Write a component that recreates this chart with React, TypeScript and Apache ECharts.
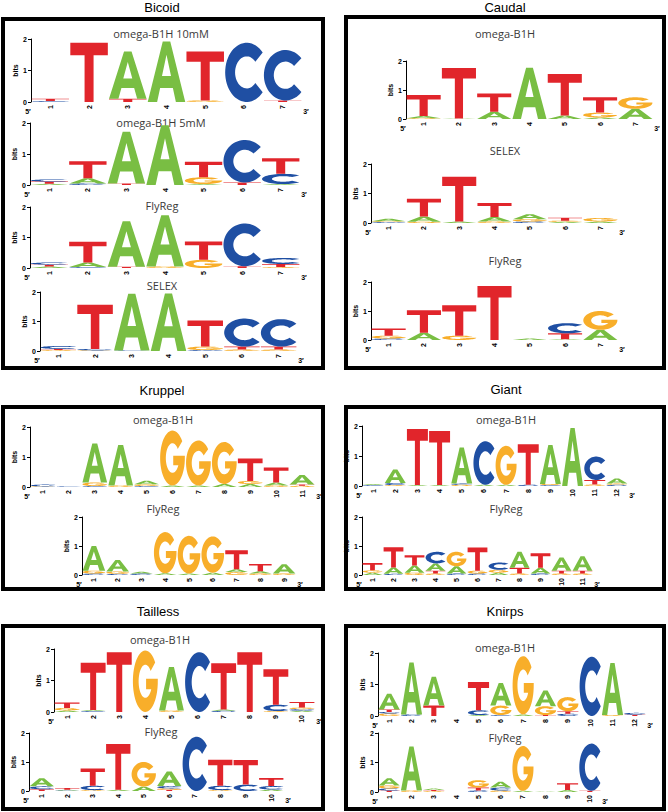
import React, { useEffect, useRef } from "react";
import * as echarts from "echarts";

type Stack = [string, number][];

// ---------- DATA (bits per letter, bottom → top) ----------
const bicoidB1H10: Stack[] = [
  [["C", 0.03], ["T", 0.07]],
  [["T", 1.88]],
  [["T", 0.1], ["A", 1.5]],
  [["A", 1.92]],
  [["G", 0.05], ["T", 1.55]],
  [["C", 1.88]],
  [["T", 0.05], ["C", 1.6]],
];
const bicoidB1H5: Stack[] = [
  [["A", 0.04], ["T", 0.07], ["C", 0.07]],
  [["C", 0.05], ["A", 0.17], ["T", 0.55]],
  [["T", 0.05], ["A", 1.67]],
  [["A", 1.93]],
  [["A", 0.03], ["G", 0.22], ["T", 0.5]],
  [["T", 0.08], ["C", 1.37]],
  [["A", 0.03], ["C", 0.33], ["T", 0.5]],
];
const bicoidFlyReg: Stack[] = [
  [["A", 0.05], ["T", 0.06], ["C", 0.07]],
  [["C", 0.03], ["A", 0.15], ["T", 0.68]],
  [["T", 0.04], ["A", 1.49]],
  [["G", 0.05], ["A", 1.68]],
  [["G", 0.27], ["T", 0.6]],
  [["T", 0.06], ["C", 1.4]],
  [["G", 0.03], ["T", 0.1], ["C", 0.2]],
];
const bicoidSELEX: Stack[] = [
  [["G", 0.03], ["T", 0.04], ["C", 0.1]],
  [["G", 0.02], ["C", 0.05], ["T", 1.5]],
  [["C", 0.02], ["A", 1.92]],
  [["A", 1.95]],
  [["C", 0.03], ["G", 0.12], ["T", 0.88]],
  [["G", 0.05], ["T", 0.1], ["C", 0.95]],
  [["G", 0.05], ["T", 0.1], ["C", 0.93]],
];
const caudalB1H: Stack[] = [
  [["G", 0.03], ["A", 0.07], ["T", 0.73]],
  [["A", 0.02], ["T", 1.74]],
  [["A", 0.25], ["T", 0.63]],
  [["A", 1.77]],
  [["A", 0.12], ["T", 1.43]],
  [["A", 0.05], ["G", 0.17], ["T", 0.53]],
  [["A", 0.35], ["G", 0.4]],
];
const caudalSELEX: Stack[] = [
  [["C", 0.03], ["G", 0.03], ["A", 0.08]],
  [["G", 0.04], ["A", 0.18], ["T", 0.6]],
  [["A", 0.05], ["T", 1.52]],
  [["G", 0.05], ["A", 0.15], ["T", 0.48]],
  [["C", 0.05], ["G", 0.08], ["A", 0.17]],
  [["A", 0.04], ["G", 0.04], ["T", 0.1]],
  [["A", 0.05], ["G", 0.12]],
];
const caudalFlyReg: Stack[] = [
  [["C", 0.05], ["G", 0.1], ["T", 0.25]],
  [["A", 0.25], ["T", 0.78]],
  [["G", 0.15], ["T", 1.05]],
  [["T", 1.86]],
  [["A", 0.05]],
  [["A", 0.03], ["T", 0.2], ["C", 0.35]],
  [["A", 0.35], ["G", 0.65]],
];
const kruppelB1H: Stack[] = [
  [["G", 0.02], ["C", 0.06]],
  [["C", 0.02]],
  [["C", 0.03], ["G", 0.12], ["A", 1.3]],
  [["G", 0.05], ["A", 1.35]],
  [["C", 0.03], ["G", 0.06], ["A", 0.12]],
  [["A", 0.05], ["G", 1.83]],
  [["A", 0.05], ["G", 1.5]],
  [["A", 0.1], ["G", 1.4]],
  [["A", 0.1], ["G", 0.1], ["T", 0.75]],
  [["G", 0.05], ["A", 0.1], ["T", 0.5]],
  [["G", 0.04], ["T", 0.04], ["A", 0.32]],
];
const kruppelFlyReg: Stack[] = [
  [["C", 0.05], ["G", 0.1], ["A", 0.85]],
  [["C", 0.04], ["G", 0.08], ["A", 0.4]],
  [["C", 0.05], ["A", 0.06]],
  [["A", 0.06], ["G", 1.42]],
  [["A", 0.05], ["G", 1.3]],
  [["A", 0.08], ["G", 1.25]],
  [["G", 0.1], ["A", 0.1], ["T", 0.65]],
  [["G", 0.05], ["A", 0.08], ["T", 0.25]],
  [["G", 0.05], ["A", 0.32]],
];
const giantB1H: Stack[] = [
  [["C", 0.03], ["A", 0.04]],
  [["G", 0.03], ["C", 0.07], ["A", 0.45]],
  [["A", 0.03], ["T", 1.87]],
  [["A", 0.03], ["T", 1.8]],
  [["G", 0.04], ["C", 0.04], ["A", 1.2]],
  [["A", 0.04], ["C", 1.45]],
  [["A", 0.04], ["G", 1.3]],
  [["C", 0.04], ["T", 1.35]],
  [["C", 0.03], ["G", 0.04], ["A", 1.3]],
  [["A", 1.93]],
  [["G", 0.05], ["T", 0.15], ["C", 0.78]],
  [["C", 0.04], ["G", 0.04], ["A", 0.17]],
];
const giantFlyReg: Stack[] = [
  [["A", 0.08], ["G", 0.08], ["T", 0.25]],
  [["C", 0.04], ["A", 0.22], ["T", 0.7]],
  [["G", 0.08], ["A", 0.25], ["T", 0.35]],
  [["G", 0.05], ["T", 0.1], ["A", 0.25], ["C", 0.4]],
  [["C", 0.05], ["A", 0.25], ["G", 0.5]],
  [["C", 0.05], ["G", 0.1], ["T", 0.8]],
  [["A", 0.08], ["G", 0.1], ["C", 0.25]],
  [["G", 0.05], ["T", 0.2], ["A", 0.55]],
  [["C", 0.05], ["A", 0.2], ["T", 0.5]],
  [["G", 0.05], ["T", 0.1], ["A", 0.45]],
  [["G", 0.05], ["T", 0.1], ["A", 0.5]],
];
const taillessB1H: Stack[] = [
  [["A", 0.05], ["G", 0.08], ["T", 0.17]],
  [["C", 0.03], ["A", 0.03], ["T", 1.5]],
  [["T", 1.9]],
  [["G", 1.95]],
  [["G", 0.05], ["A", 1.38]],
  [["C", 1.9]],
  [["C", 0.04], ["A", 0.04], ["T", 1.47]],
  [["T", 1.9]],
  [["G", 0.03], ["C", 0.2], ["T", 1.13]],
  [["A", 0.04], ["C", 0.05], ["G", 0.05], ["T", 0.18]],
];
const taillessFlyReg: Stack[] = [
  [["T", 0.06], ["C", 0.1], ["A", 0.28]],
  [["C", 0.02], ["A", 0.02], ["T", 0.06]],
  [["G", 0.03], ["C", 0.15], ["T", 0.6]],
  [["A", 0.04], ["T", 1.58]],
  [["A", 0.15], ["G", 0.85]],
  [["T", 0.04], ["G", 0.05], ["C", 0.08], ["A", 0.5]],
  [["C", 1.87]],
  [["G", 0.03], ["C", 0.15], ["T", 0.9]],
  [["C", 0.22], ["T", 0.85]],
  [["A", 0.05], ["C", 0.12], ["T", 0.28]],
];
const knirpsB1H: Stack[] = [
  [["G", 0.08], ["C", 0.05], ["T", 0.08], ["A", 0.5]],
  [["C", 0.05], ["A", 1.65]],
  [["T", 0.33], ["A", 0.92]],
  [],
  [["A", 0.03], ["C", 0.15], ["T", 0.9]],
  [["C", 0.03], ["G", 0.3], ["A", 0.72]],
  [["A", 0.05], ["G", 1.85]],
  [["T", 0.03], ["G", 0.28], ["A", 0.5]],
  [["C", 0.07], ["T", 0.08], ["G", 0.45]],
  [["C", 1.88]],
  [["G", 0.03], ["A", 1.65]],
  [["T", 0.04], ["C", 0.06]],
];
const knirpsFlyReg: Stack[] = [
  [["T", 0.05], ["C", 0.07], ["G", 0.1], ["A", 0.25]],
  [["G", 0.05], ["A", 1.49]],
  [["G", 0.03], ["T", 0.04], ["A", 0.05]],
  [],
  [["C", 0.05], ["T", 0.1], ["G", 0.25]],
  [["G", 0.05], ["C", 0.1], ["A", 0.2]],
  [["A", 0.04], ["G", 1.52]],
  [["A", 0.02]],
  [["A", 0.07], ["T", 0.23]],
  [["T", 0.04], ["C", 1.6]],
];

const yTicks = [0, 1, 2];
const panelTitles = ["Bicoid", "Caudal", "Kruppel", "Giant", "Tailless", "Knirps"];

// ---------- LAYOUT ----------
const panels = [
  { title: panelTitles[0], tx: 162, ty: 7, x0: 1, y0: 17, x1: 325, y1: 370 },
  { title: panelTitles[1], tx: 505, ty: 7, x0: 344, y0: 15, x1: 666, y1: 370 },
  { title: panelTitles[2], tx: 162, ty: 390, x0: 1, y0: 405, x1: 325, y1: 591 },
  { title: panelTitles[3], tx: 506, ty: 389, x0: 344, y0: 405, x1: 666, y1: 591 },
  { title: panelTitles[4], tx: 158, ty: 611, x0: 1, y0: 624, x1: 325, y1: 811 },
  { title: panelTitles[5], tx: 505, ty: 611, x0: 344, y0: 624, x1: 666, y1: 811 },
];

const logos = [
  { stacks: bicoidB1H10, title: "omega-B1H 10mM", tx: 161, ty: 33, left: 31, top: 39, width: 271, height: 63 },
  { stacks: bicoidB1H5, title: "omega-B1H 5mM", tx: 161, ty: 122, left: 30, top: 123, width: 270, height: 62 },
  { stacks: bicoidFlyReg, title: "FlyReg", tx: 162, ty: 205, left: 30, top: 207, width: 270, height: 61 },
  { stacks: bicoidSELEX, title: "SELEX", tx: 162, ty: 285, left: 40, top: 292, width: 257, height: 59 },
  { stacks: caudalB1H, title: "omega-B1H", tx: 505, ty: 33, left: 406, top: 61, width: 247, height: 58 },
  { stacks: caudalSELEX, title: "SELEX", tx: 505, ty: 150, left: 371, top: 164, width: 247, height: 59 },
  { stacks: caudalFlyReg, title: "FlyReg", tx: 505, ty: 260, left: 371, top: 282, width: 247, height: 58 },
  { stacks: kruppelB1H, title: "omega-B1H", tx: 163, ty: 419, left: 30, top: 427, width: 285, height: 60 },
  { stacks: kruppelFlyReg, title: "FlyReg", tx: 163, ty: 508, left: 82, top: 517, width: 214, height: 58 },
  { stacks: giantB1H, title: "omega-B1H", tx: 506, ty: 419, left: 362, top: 426, width: 266, height: 60 },
  { stacks: giantFlyReg, title: "FlyReg", tx: 506, ty: 508, left: 362, top: 517, width: 231, height: 58 },
  { stacks: taillessB1H, title: "omega-B1H", tx: 160, ty: 639, left: 54, top: 649, width: 261, height: 63 },
  { stacks: taillessFlyReg, title: "FlyReg", tx: 161, ty: 731, left: 29, top: 733, width: 255, height: 58 },
  { stacks: knirpsB1H, title: "omega-B1H", tx: 505, ty: 647, left: 378, top: 653, width: 268, height: 63 },
  { stacks: knirpsFlyReg, title: "FlyReg", tx: 505, ty: 737, left: 378, top: 733, width: 223, height: 59 },
];

// ---------- LETTER GLYPHS ----------
const LETTERS = ["A", "C", "G", "T"];
const LETTER_COLORS = ["#79be43", "#1f4fa3", "#f8ae2a", "#e1252b"];

function arcPts(r: number, a0: number, a1: number, n: number): string[] {
  const out: string[] = [];
  for (let i = 0; i <= n; i++) {
    const a = ((a0 + ((a1 - a0) * i) / n) * Math.PI) / 180;
    out.push(`${(50 + r * Math.cos(a)).toFixed(2)} ${(50 - r * Math.sin(a)).toFixed(2)}`);
  }
  return out;
}
const PATH_A = "M40 0 L60 0 L100 100 L75 100 L67 77 L33 77 L25 100 L0 100 Z M38 57 L62 57 L50 22 Z";
const PATH_C = (() => {
  const o = arcPts(50, 42, 318, 48);
  const i = arcPts(27, 318, 42, 36);
  return "M" + o.join(" L") + " L" + i.join(" L") + " Z";
})();
const PATH_G = (() => {
  const o = arcPts(50, 38, 355, 48);
  const inStart = 360 - (Math.asin(13 / 27) * 180) / Math.PI;
  const i = arcPts(27, inStart, 38, 36);
  return "M" + o.join(" L") + " L100 46 L53 46 L53 63 L" + i.join(" L") + " Z";
})();
const PATH_T = "M0 0 L100 0 L100 21 L62 21 L62 100 L38 100 L38 21 L0 21 Z";
const LETTER_PATHS = [PATH_A, PATH_C, PATH_G, PATH_T];

const AXIS_FONT = "'Liberation Sans', Arial, sans-serif";

function buildOption() {
  const grid: any[] = [];
  const xAxis: any[] = [];
  const yAxis: any[] = [];
  const series: any[] = [];
  const graphic: any[] = [];

  panels.forEach((p) => {
    graphic.push({
      type: "rect",
      shape: { x: p.x0 + 2, y: p.y0 + 2, width: p.x1 - p.x0 - 4, height: p.y1 - p.y0 - 4 },
      style: { fill: "none", stroke: "#000", lineWidth: 4 },
      silent: true,
    });
    graphic.push({
      type: "text",
      x: p.tx,
      y: p.ty,
      style: {
        text: p.title, fill: "#000", fontSize: 13, fontWeight: "normal", fontFamily: AXIS_FONT,
        align: "center", verticalAlign: "middle", textAlign: "center", textVerticalAlign: "middle",
      },
    });
  });

  logos.forEach((lg, gi) => {
    grid.push({ left: lg.left, top: lg.top, width: lg.width, height: lg.height, outerBoundsMode: "none", containLabel: false });
    xAxis.push({
      type: "category",
      gridIndex: gi,
      data: lg.stacks.map((_, i) => String(i + 1)),
      boundaryGap: true,
      axisLine: { show: false },
      axisTick: { show: false },
      axisLabel: { show: true, interval: 0, rotate: 90, fontSize: 7, fontWeight: "bold", color: "#000", margin: 3, fontFamily: AXIS_FONT },
      splitLine: { show: false },
    });
    yAxis.push({
      type: "value",
      gridIndex: gi,
      min: yTicks[0],
      max: yTicks[yTicks.length - 1],
      interval: 1,
      name: "bits",
      nameLocation: "middle",
      nameRotate: 90,
      nameGap: 10,
      nameTextStyle: { fontSize: 7, fontWeight: "bold", color: "#000", fontFamily: AXIS_FONT },
      axisLine: { show: true, lineStyle: { color: "#000", width: 1 } },
      axisTick: { show: true, length: 3, lineStyle: { color: "#000" } },
      axisLabel: { fontSize: 7, fontWeight: "bold", color: "#000", margin: 4, fontFamily: AXIS_FONT },
      splitLine: { show: false },
    });
    const data: number[][] = [];
    lg.stacks.forEach((stack, pos) => {
      let y = 0;
      stack.forEach(([letter, h]) => {
        data.push([pos, y, y + h, LETTERS.indexOf(letter)]);
        y += h;
      });
    });
    series.push({
      type: "custom",
      xAxisIndex: gi,
      yAxisIndex: gi,
      encode: { x: 0, y: [1, 2] },
      data,
      clip: false,
      renderItem: (params: any, api: any) => {
        const idx = api.value(0);
        const y0 = api.value(1);
        const y1 = api.value(2);
        const li = api.value(3);
        const band = api.size([1, 0])[0];
        const b = api.coord([idx, y0]);
        const t = api.coord([idx, y1]);
        const h = b[1] - t[1];
        if (!(h > 0.15)) return null;
        const w = band - 1.2;
        return {
          type: "path",
          shape: { pathData: LETTER_PATHS[li], x: b[0] - w / 2, y: t[1], width: w, height: h, layout: "cover" },
          style: { fill: LETTER_COLORS[li] },
        };
      },
    });
    graphic.push({
      type: "text",
      x: lg.tx,
      y: lg.ty,
      style: {
        text: lg.title, fill: "#3a3a3a", fontSize: 11, fontWeight: "normal", fontFamily: "'Open Sans', 'Noto Sans', sans-serif",
        align: "center", verticalAlign: "middle", textAlign: "center", textVerticalAlign: "middle",
      },
    });
    const zeroY = lg.top + lg.height;
    graphic.push({
      type: "text",
      x: lg.left - 3,
      y: zeroY + 9,
      style: {
        text: "5′", fill: "#000", fontSize: 7, fontWeight: "bold", fontFamily: AXIS_FONT,
        align: "center", verticalAlign: "middle", textAlign: "center", textVerticalAlign: "middle",
      },
    });
    graphic.push({
      type: "text",
      x: lg.left + lg.width + 4,
      y: zeroY + 9,
      style: {
        text: "3′", fill: "#000", fontSize: 7, fontWeight: "bold", fontFamily: AXIS_FONT,
        align: "center", verticalAlign: "middle", textAlign: "center", textVerticalAlign: "middle",
      },
    });
  });

  return {
    animation: false,
    backgroundColor: "#ffffff",
    grid,
    xAxis,
    yAxis,
    series,
    graphic: { elements: graphic },
  };
}

export default function App() {
  const ref = useRef<HTMLDivElement>(null);
  useEffect(() => {
    if (!ref.current) return;
    const chart = echarts.init(ref.current, undefined, { renderer: "svg" });
    chart.setOption(buildOption() as any);
    return () => chart.dispose();
  }, []);
  return (
    <div
      ref={ref}
      style={{ position: "absolute", left: 0, top: 0, width: 668, height: 812, background: "#fff" }}
    />
  );
}
